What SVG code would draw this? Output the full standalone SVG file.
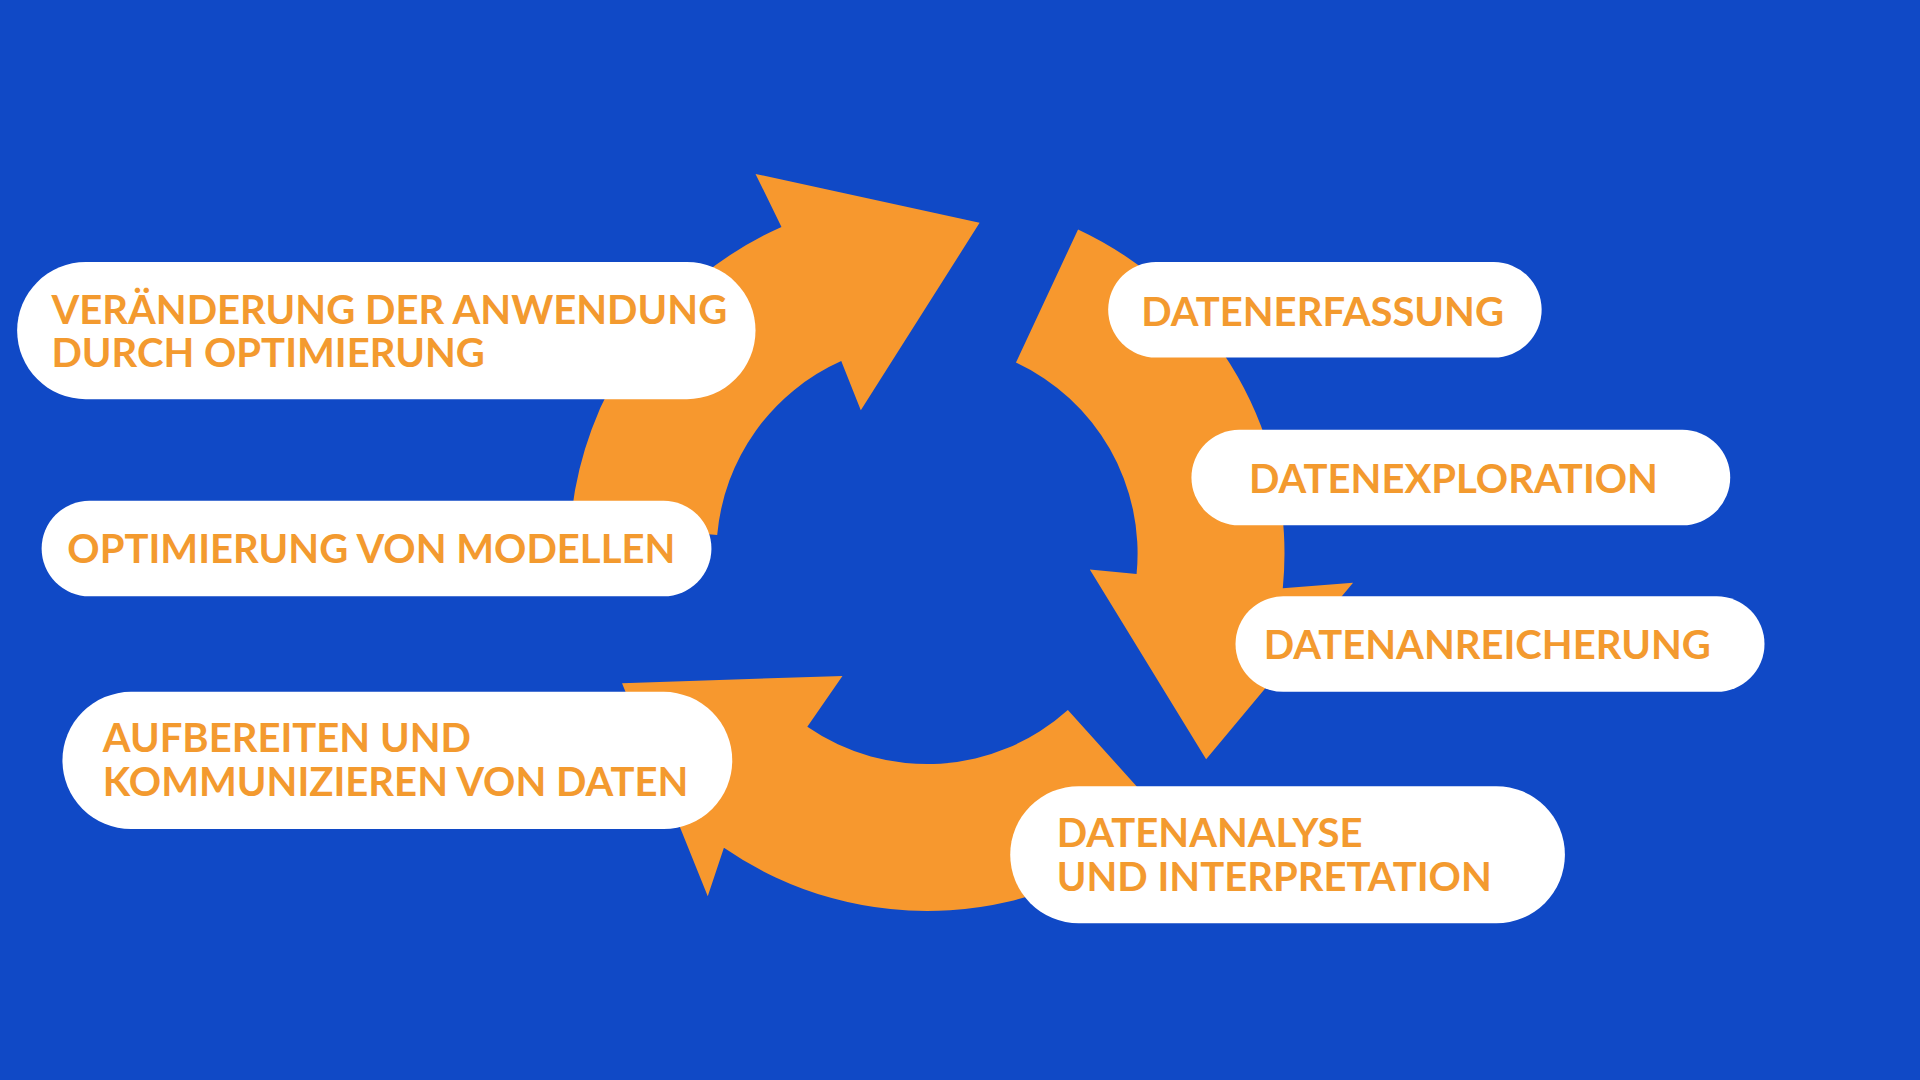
<svg xmlns="http://www.w3.org/2000/svg" width="1920" height="1080" viewBox="0 0 1920 1080">
<style>
.arr{fill:#f7982e}
.box{fill:#ffffff}
.t{font-family:Lato,"Liberation Sans",sans-serif;font-weight:700;font-size:32.7px;fill:#f39a2f}
</style>
<rect width="1920" height="1080" fill="#1049c6"/>
<g transform="scale(1.2245)">
<g id="connectors">
<path class="arr" d="M 880.4,187.4 A 292 292 0 0 1 1047.6,480.5 L 1105,476 L 985,620 L 890,465 L 928.2,468.8 A 172 172 0 0 0 829.7,296.1 Z"/>
<path class="arr" d="M 952.4,669 A 292 292 0 0 1 591.2,692.3 L 578,732 L 508,558 L 688,552 L 659.3,593.6 A 172 172 0 0 0 872.1,579.8 Z"/>
<path class="arr" d="M 466.1,426.5 A 292 292 0 0 1 638.2,185.3 L 617,142 L 800,182 L 703,335 L 687,294.9 A 172 172 0 0 0 585.7,437 Z"/>
</g>
<g id="n1"><rect class="box" x="14" y="214" width="603" height="112" rx="56"/>
<text class="t" x="42" y="265">VERÄNDERUNG DER ANWENDUNG</text><text class="t" x="42" y="300">DURCH OPTIMIERUNG</text></g>
<g id="n2"><rect class="box" x="34" y="409" width="547" height="78" rx="39"/>
<text class="t" x="55" y="460">OPTIMIERUNG VON MODELLEN</text></g>
<g id="n3"><rect class="box" x="51" y="565" width="547" height="112" rx="56"/>
<text class="t" x="84" y="614">AUFBEREITEN UND</text><text class="t" x="84" y="650">KOMMUNIZIEREN VON DATEN</text></g>
<g id="n4"><rect class="box" x="905" y="214" width="354" height="78" rx="39"/>
<text class="t" x="932" y="266">DATENERFASSUNG</text></g>
<g id="n5"><rect class="box" x="973" y="351" width="440" height="78" rx="39"/>
<text class="t" x="1020" y="403">DATENEXPLORATION</text></g>
<g id="n6"><rect class="box" x="1009" y="487" width="432" height="78" rx="39"/>
<text class="t" x="1032" y="538">DATENANREICHERUNG</text></g>
<g id="n7"><rect class="box" x="825" y="642" width="453" height="112" rx="56"/>
<text class="t" x="863" y="692">DATENANALYSE</text><text class="t" x="863" y="728">UND INTERPRETATION</text></g>
</g>
</svg>
